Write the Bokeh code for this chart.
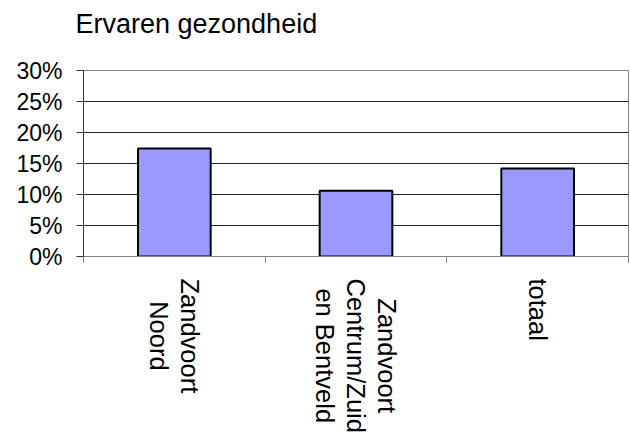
import math
from bokeh.plotting import figure
from bokeh.layouts import column
from bokeh.models import Range1d, FixedTicker, ColumnDataSource
from bokeh.models.glyphs import Text
from bokeh.core.properties import value
from bokeh.embed import file_html
from bokeh.resources import INLINE

title_text = "Ervaren gezondheid"
categories = ["Zandvoort\nNoord", "Zandvoort\nCentrum/Zuid\nen Bentveld", "totaal"]
values = [0.174, 0.106, 0.142]
y_ticks = [0.0, 0.05, 0.10, 0.15, 0.20, 0.25, 0.30]
y_tick_labels = ["0%", "5%", "10%", "15%", "20%", "25%", "30%"]

FONT = "Liberation Sans"
W = 629
TOP_H = 270
BOT_H = 437 - TOP_H

x_range = Range1d(0, len(categories))
x_centers = [i + 0.5 for i in range(len(categories))]

p = figure(width=W, height=TOP_H, output_backend="svg", toolbar_location=None,
           x_range=x_range, y_range=Range1d(y_ticks[0], y_ticks[-1]),
           min_border_left=83, min_border_right=1, min_border_top=70, min_border_bottom=14)

p.vbar(x=x_centers, top=values, width=0.4, fill_color="#9999FF",
       line_color="black", line_width=2)

p.background_fill_color = "white"
p.border_fill_color = "white"
p.outline_line_color = "#808080"
p.outline_line_width = 1

# Y axis
ya = p.yaxis[0]
ya.ticker = FixedTicker(ticks=y_ticks, minor_ticks=[])
ya.major_label_overrides = {t: lab for t, lab in zip(y_ticks, y_tick_labels)}
ya.axis_line_color = "#333333"
ya.major_tick_line_color = "#333333"
ya.major_tick_out = 7
ya.major_tick_in = 0
ya.minor_tick_line_color = None
ya.major_label_text_font = FONT
ya.major_label_text_font_size = "23px"
ya.major_label_text_color = "black"
ya.major_label_standoff = 14

# X axis: ticks at category boundaries, labels drawn below
xa = p.xaxis[0]
xa.ticker = FixedTicker(ticks=x_centers, minor_ticks=list(range(len(categories) + 1)))
xa.axis_line_color = "#808080"
xa.major_tick_line_color = None
xa.major_tick_out = 0
xa.major_tick_in = 0
xa.minor_tick_line_color = "#808080"
xa.minor_tick_out = 6
xa.minor_tick_in = 0
xa.major_label_overrides = {c: "" for c in x_centers}
xa.major_label_text_font_size = "1px"
xa.major_label_standoff = 0

# Grid
p.xgrid.visible = False
p.ygrid.ticker = FixedTicker(ticks=y_ticks[1:-1], minor_ticks=[])
p.ygrid.grid_line_color = "#222222"
p.ygrid.grid_line_width = 1

# Title
p.title.text = title_text + "\n"
p.title.text_font = FONT
p.title.text_font_size = "27px"
p.title.text_font_style = "normal"
p.title.text_color = "black"
p.title.text_line_height = 1.0
p.title.align = "left"
p.title.offset = -8
p.title.standoff = 4

# Category label strip (shares the x range)
label_gap = 22  # px between axis line and start of labels
p2 = figure(width=W, height=BOT_H, output_backend="svg", toolbar_location=None,
            x_range=x_range, y_range=Range1d(-BOT_H, 0),
            x_axis_location=None, y_axis_location=None,
            min_border_left=83, min_border_right=1, min_border_top=0, min_border_bottom=0)
p2.outline_line_color = None
p2.xgrid.visible = False
p2.ygrid.visible = False
p2.background_fill_color = "white"
p2.border_fill_color = "white"

label_y = -(label_gap - (TOP_H - 70 - 186))
src = ColumnDataSource(dict(x=x_centers, y=[label_y] * len(categories), text=categories))
kw = dict(x="x", y="y", text="text", angle=-math.pi / 2,
          text_font=value(FONT), text_font_size=value("25.5px"),
          text_color="black", text_line_height=1.12)
if "anchor" in Text.properties():
    kw.update(anchor="center_left", text_align="center", text_baseline="middle")
else:
    kw.update(text_align="left", text_baseline="middle")
p2.add_glyph(src, Text(**kw))

layout = column(p, p2, spacing=0)
open("out.html", "w").write(file_html(layout, INLINE))
